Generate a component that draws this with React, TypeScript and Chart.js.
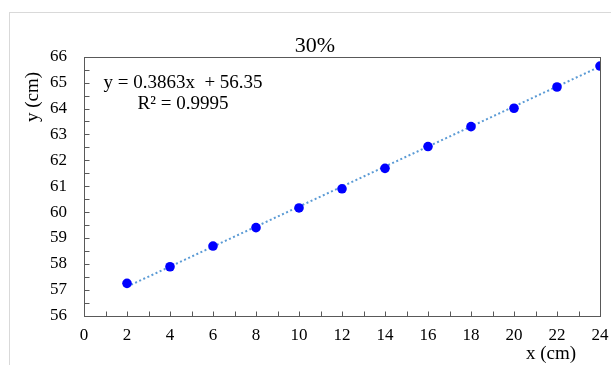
import React, { useEffect, useRef } from "react";
import { Chart, registerables } from "chart.js";

Chart.register(...registerables);

// Measured positions along the rod (x) and resulting heights (y), both in cm
const xValues = [2, 4, 6, 8, 10, 12, 14, 16, 18, 20, 22, 24];
const yValues = [57.25, 57.89, 58.69, 59.4, 60.16, 60.9, 61.69, 62.53, 63.3, 64.01, 64.83, 65.64];

// Linear trendline coefficients as printed on the chart
const slope = 0.3863;
const intercept = 56.35;
const rSquared = "0.9995";
const trendRange = [2, 24];

const chartTitle = "30%";
const xTitle = "x (cm)";
const yTitle = "y (cm)";

const SERIF = '"Liberation Serif", "Times New Roman", serif';

const decorations = {
  id: "decorations",
  beforeDatasetsDraw(chart: any) {
    const { ctx, chartArea, scales } = chart;
    const { left, right, top, bottom } = chartArea;
    ctx.save();
    // outer light frame
    ctx.strokeStyle = "#d9d9d9";
    ctx.lineWidth = 1;
    ctx.strokeRect(9.5, 12.5, 800, 800);

    // plot box
    ctx.strokeStyle = "#595959";
    ctx.lineWidth = 1;
    ctx.strokeRect(Math.round(left) + 0.5, Math.round(top) + 0.5, Math.round(right - left), Math.round(bottom - top));

    // inward tick marks
    ctx.beginPath();
    const yb = Math.round(bottom) + 0.5;
    for (let v = 1; v < 24; v += 1) {
      const px = Math.round(scales.x.getPixelForValue(v)) + 0.5;
      ctx.moveTo(px, yb);
      ctx.lineTo(px, yb - 5);
    }
    const xl = Math.round(left) + 0.5;
    for (let v = 56.5; v < 66; v += 0.5) {
      const py = Math.round(scales.y.getPixelForValue(v)) + 0.5;
      ctx.moveTo(xl, py);
      ctx.lineTo(xl + 5, py);
    }
    ctx.stroke();
    ctx.restore();
  },
  afterDraw(chart: any) {
    const { ctx } = chart;
    ctx.save();
    ctx.fillStyle = "#000";
    ctx.textAlign = "center";
    ctx.textBaseline = "alphabetic";

    ctx.font = `22px ${SERIF}`;
    ctx.fillText(chartTitle, 315, 52);

    ctx.font = `19px ${SERIF}`;
    ctx.fillText(xTitle, 551, 359);

    ctx.save();
    ctx.translate(38, 97);
    ctx.rotate(-Math.PI / 2);
    ctx.fillText(yTitle, 0, 0);
    ctx.restore();

    ctx.font = `19px ${SERIF}`;
    ctx.fillText(`y = ${slope}x  + ${intercept}`, 183, 88);
    ctx.fillText(`R² = ${rSquared}`, 183, 109);
    ctx.restore();
  },
};

export default function App() {
  const canvasRef = useRef<HTMLCanvasElement | null>(null);

  useEffect(() => {
    if (!canvasRef.current) return;
    const points = xValues.map((x, i) => ({ x, y: yValues[i] }));
    const trend = trendRange.map((x) => ({ x, y: slope * x + intercept }));

    const chart = new Chart(canvasRef.current, {
      type: "scatter",
      data: {
        datasets: [
          {
            label: "data",
            data: points,
            order: 0,
            backgroundColor: "#0000ff",
            borderColor: "#0000ff",
            pointRadius: 4.8,
            pointBorderWidth: 0,
            showLine: false,
          },
          {
            label: "trend",
            data: trend,
            order: 1,
            showLine: true,
            borderColor: "#5b9bd5",
            borderWidth: 2,
            borderDash: [2, 2.5],
            pointRadius: 0,
            fill: false,
          },
        ],
      },
      options: {
        animation: false,
        responsive: false,
        maintainAspectRatio: false,
        devicePixelRatio: 1,
        layout: { padding: { left: 8, top: 56.7, right: 11, bottom: 0 } },
        plugins: {
          legend: { display: false },
          title: { display: false },
          tooltip: { enabled: false },
        },
        scales: {
          x: {
            type: "linear",
            min: 0,
            max: 24,
            grid: { display: false, drawTicks: false },
            border: { display: false },
            ticks: {
              stepSize: 2,
              autoSkip: false,
              maxRotation: 0,
              padding: 10,
              color: "#000",
              font: { family: SERIF, size: 17 },
            },
            afterFit: (s: any) => {
              s.height = 49.3;
              s.paddingLeft = 0;
              s.paddingRight = 0;
            },
          },
          y: {
            type: "linear",
            min: 56,
            max: 66,
            grid: { display: false, drawTicks: false },
            border: { display: false },
            ticks: {
              stepSize: 1,
              autoSkip: false,
              padding: 17,
              color: "#000",
              font: { family: SERIF, size: 17 },
            },
            afterFit: (s: any) => {
              s.width = 76;
              s.paddingTop = 0;
              s.paddingBottom = 0;
            },
          },
        },
      },
      plugins: [decorations],
    });
    return () => chart.destroy();
  }, []);

  return (
    <div style={{ position: "fixed", left: 0, top: 0, width: 611, height: 365, background: "#fff" }}>
      <canvas ref={canvasRef} width={611} height={365} style={{ display: "block" }} />
    </div>
  );
}
